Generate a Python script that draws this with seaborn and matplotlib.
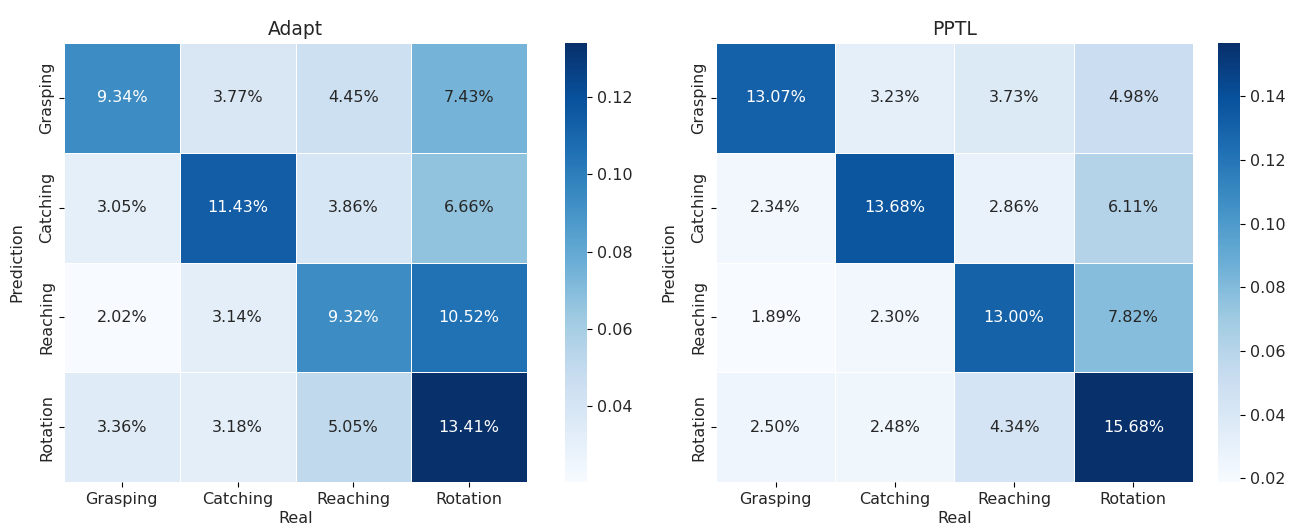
import numpy as np
import pandas as pd
import matplotlib
matplotlib.use("Agg")
import matplotlib.pyplot as plt
import seaborn as sns

classes = ["Grasping", "Catching", "Reaching", "Rotation"]

# Confusion matrices in percent (rows: prediction, columns: real)
adapt_pct = [
    [9.34, 3.77, 4.45, 7.43],
    [3.05, 11.43, 3.86, 6.66],
    [2.02, 3.14, 9.32, 10.52],
    [3.36, 3.18, 5.05, 13.41],
]
pptl_pct = [
    [13.07, 3.23, 3.73, 4.98],
    [2.34, 13.68, 2.86, 6.11],
    [1.89, 2.30, 13.00, 7.82],
    [2.50, 2.48, 4.34, 15.68],
]

panels = [("Adapt", adapt_pct), ("PPTL", pptl_pct)]

plt.rcParams["text.color"] = "#262626"
plt.rcParams["xtick.labelcolor"] = "#262626"
plt.rcParams["ytick.labelcolor"] = "#262626"
plt.rcParams["axes.labelcolor"] = "#262626"

W, H = 1290, 529
fig = plt.figure(figsize=(W / 100, H / 100), dpi=100)

# pixel boxes (left, top, right, bottom) for heatmaps and colorbars
heat_boxes = [(64, 43, 527, 482), (716, 43, 1193, 482)]
cbar_boxes = [(565, 43, 587, 482), (1218, 43, 1240, 482)]


def to_fig(box):
    l, t, r, b = box
    return [l / W, 1 - b / H, (r - l) / W, (b - t) / H]


for (title, pct), hb, cb in zip(panels, heat_boxes, cbar_boxes):
    ax = fig.add_axes(to_fig(hb))
    cax = fig.add_axes(to_fig(cb))
    vals = np.array(pct) / 100.0
    df = pd.DataFrame(vals, index=classes, columns=classes)
    labels = np.array([[f"{v:.2f}%" for v in row] for row in pct])
    sns.heatmap(df, ax=ax, cbar_ax=cax, cmap="Blues", annot=labels, fmt="",
                linewidths=0.5, linecolor="white",
                annot_kws={"fontsize": 11.5})
    ax.set_title(title, fontsize=13.5, pad=6)
    ax.set_xlabel("Real", fontsize=11.5, labelpad=3)
    ax.set_ylabel("Prediction", fontsize=11.5)
    ax.tick_params(axis="both", labelsize=11.5)
    ax.set_yticklabels(classes, rotation=90, va="center")
    ax.set_xticklabels(classes, rotation=0)
    width_px = hb[2] - hb[0]
    ax.yaxis.set_label_coords(-40 / width_px, 0.5)
    cax.tick_params(labelsize=11.5)

fig.savefig("out.png", dpi=100)
